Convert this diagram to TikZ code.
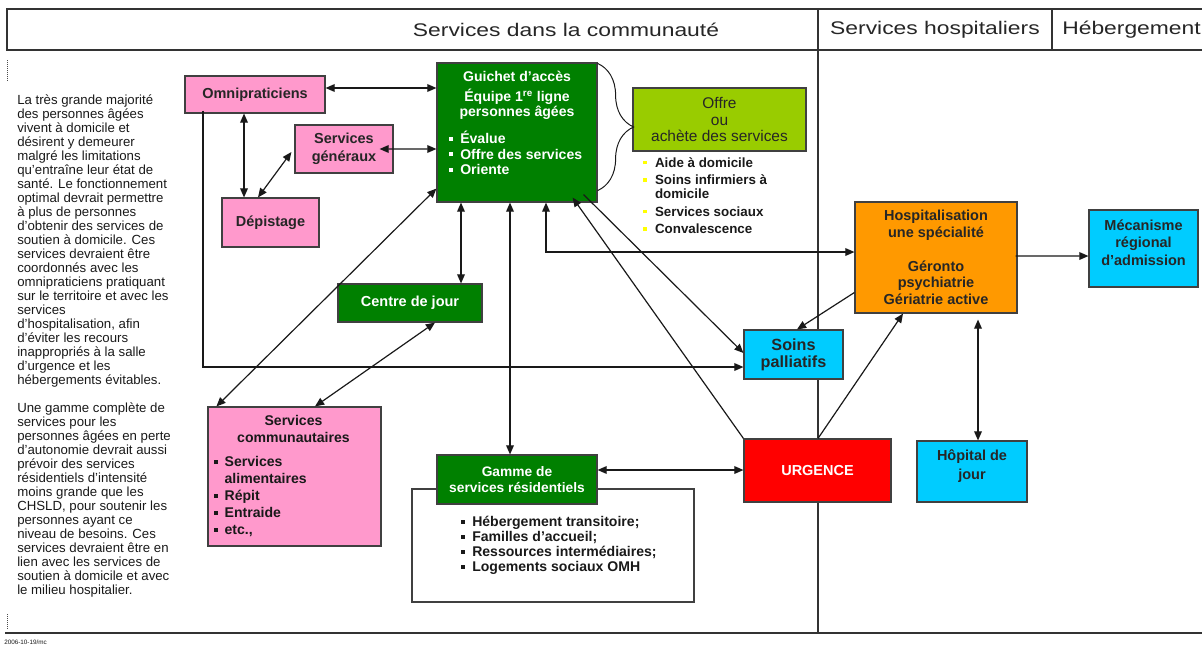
\documentclass[tikz,border=0pt]{standalone}
\usepackage{fontspec}
\setmainfont{Liberation Sans}
\newfontfamily\headfont[FakeStretch=1.25]{Liberation Sans}
\usetikzlibrary{arrows.meta, positioning, calc, decorations.pathreplacing}
\definecolor{boxPink}{HTML}{FF99CC}
\definecolor{boxGreen}{HTML}{008000}
\definecolor{boxLime}{HTML}{99CC00}
\definecolor{boxOrange}{HTML}{FF9900}
\definecolor{boxCyan}{HTML}{00CCFF}
\definecolor{boxRed}{HTML}{FF0000}
\definecolor{bulletYellow}{HTML}{FFFF00}
\newcommand{\fsz}[2]{\fontsize{#1}{#2}\selectfont}
\newcommand{\sqb}{\rule[0.2em]{0.28em}{0.28em}\hspace{0.5em}}
\newcommand{\ysq}{\textcolor{bulletYellow}{\rule[0.2em]{0.28em}{0.28em}}\hspace{0.6em}}

\begin{document}
\begin{tikzpicture}[x=0.025cm, y=-0.025cm, >={Triangle[length=6.5pt,width=5.5pt]},
    box/.style={draw=black!75, line width=0.8pt, inner sep=0pt, align=center, text=black!85, font=\bfseries\fsz{10.3}{12.5}},
    pinkbox/.style={box, fill=boxPink},
    greenbox/.style={box, fill=boxGreen, text=white},
    cyanbox/.style={box, fill=boxCyan},
    orangebox/.style={box, fill=boxOrange},
    link/.style={line width=0.85pt, draw=black!90},
    frame/.style={line width=0.9pt, draw=black!80},
    note/.style={inner sep=0pt, align=left, text=black!90}]

    \useasboundingbox (0,0) rectangle (1202,645);

    % header and columns
    \draw[frame] (1203,9) -- (7,9) -- (7,50) -- (1203,50);
    \draw[frame] (818,9) -- (818,633);
    \draw[frame] (1052,9) -- (1052,50);
    \draw[frame] (5,633) -- (1203,633);
    \draw[densely dotted, line width=0.4pt, black!70] (7,60) -- (7,80) (7,614) -- (7,628);
    \node[text=black!85, font=\headfont\fsz{13}{15}] (hcom) at (566,30) {Services dans la communauté};
    \node[text=black!85, font=\headfont\fsz{13}{15}] (hhosp) at (935,30) {Services hospitaliers};
    \node[text=black!85, font=\headfont\fsz{13}{15}, anchor=west, inner sep=0pt] (hheb) at (1062,30) {Hébergement};

    % left text
    \node[note, anchor=north west, font=\fsz{9.4}{9.96}] (intro) at (17,94) {La très grande majorité\\des personnes âgées\\vivent à domicile et\\désirent y demeurer\\malgré les limitations\\qu’entraîne leur état de\\santé. Le fonctionnement\\optimal devrait permettre\\à plus de personnes\\d’obtenir des services de\\soutien à domicile. Ces\\services devraient être\\coordonnés avec les\\omnipraticiens pratiquant\\sur le territoire et avec les\\services\\d’hospitalisation, afin\\d’éviter les recours\\inappropriés à la salle\\d’urgence et les\\hébergements évitables.\\[9.96pt]Une gamme complète de\\services pour les\\personnes âgées en perte\\d’autonomie devrait aussi\\prévoir des services\\résidentiels d’intensité\\moins grande que les\\CHSLD, pour soutenir les\\personnes ayant ce\\niveau de besoins. Ces\\services devraient être en\\lien avec les services de\\soutien à domicile et avec\\le milieu hospitalier.};
    \node[note, anchor=west, font=\fsz{4.5}{5}] (date) at (4,642) {2006-10-19/mc};

    % community boxes
    \node[pinkbox, minimum width=3.5cm, minimum height=0.925cm] (omni) at (255,94.5) {Omnipraticiens};
    \node[pinkbox, minimum width=2.45cm, minimum height=1.2cm] (sgen) at (344,149) {Services\\généraux};
    \node[pinkbox, minimum width=2.425cm, minimum height=1.225cm] (depist) at (270.5,222.5) {Dépistage};
    \node[greenbox, minimum width=4cm, minimum height=3.475cm] (guichet) at (517,132.5) {};
    \node[note, text=white, align=center, anchor=north, font=\bfseries\fsz{10}{10.7}] (guichetTitle) at ($(guichet.north)+(0,8)$) {Guichet d’accès\\[4pt]Équipe 1\textsuperscript{re} ligne\\personnes âgées};
    \node[note, text=white, anchor=north west, font=\bfseries\fsz{10}{11}] (guichetList) at (449,131) {\sqb Évalue\\\sqb Offre des services\\\sqb Oriente};
    \node[box, fill=boxLime, font=\fsz{11}{12}, minimum width=4.325cm, minimum height=1.575cm] (offre) at (719.5,119.5) {Offre\\ou\\achète des services};
    \draw[link, line width=0.7pt, decorate, decoration={brace, amplitude=0.9cm}] ($(guichet.north east)+(0,1)$) -- ($(guichet.south east)+(0,-12)$);
    \node[note, anchor=north west, font=\bfseries\fsz{9.5}{9.6}] (offreList) at (643,157) {\ysq Aide à domicile\\[3pt]\ysq Soins infirmiers à\\\hphantom{\ysq}domicile\\[3pt]\ysq Services sociaux\\[3pt]\ysq Convalescence};
    \node[greenbox, minimum width=3.6cm, minimum height=0.95cm] (centre) at (410,303) {Centre de jour};
    \node[pinkbox, minimum width=4.325cm, minimum height=3.475cm] (scom) at (294.5,476.5) {};
    \node[note, align=center, anchor=north, font=\bfseries\fsz{10}{12}] (scomTitle) at ($(scom.north)+(-1,9)$) {Services\\communautaires};
    \node[note, anchor=north west, font=\bfseries\fsz{10}{12}] (scomList) at ($(scom.north west)+(6,50)$) {\sqb Services\\\hphantom{\sqb}alimentaires\\\sqb Répit\\\sqb Entraide\\\sqb etc.,};
    \node[draw=black!75, line width=0.8pt, minimum width=7.05cm, minimum height=2.825cm] (resbox) at (553,545.5) {};
    \node[greenbox, minimum width=4cm, minimum height=1.225cm, font=\bfseries\fsz{9.8}{11}] (gamme) at (517,479.5) {Gamme de\\services résidentiels};
    \node[note, anchor=north west, font=\bfseries\fsz{10}{10.7}] (resList) at (461,516) {\sqb Hébergement transitoire;\\\sqb Familles d’accueil;\\\sqb Ressources intermédiaires;\\\sqb Logements sociaux OMH};

    % hospital boxes
    \node[cyanbox, font=\bfseries\fsz{11.5}{12}, minimum width=2.475cm, minimum height=1.225cm] (palli) at (793.5,354.5) {Soins\\palliatifs};
    \node[box, fill=boxRed, text=white, minimum width=3.675cm, minimum height=1.575cm] (urg) at (817.5,470.5) {URGENCE};
    \node[cyanbox, font=\bfseries\fsz{10.3}{13.5}, minimum width=2.75cm, minimum height=1.525cm] (hjour) at (972,471.5) {Hôpital de\\jour\\[-4pt]\mbox{}};
    \node[orangebox, font=\bfseries\fsz{10.3}{12}, minimum width=4.05cm, minimum height=2.775cm] (hosp) at (936,257.5) {Hospitalisation\\une spécialité\\[12pt]Géronto\\psychiatrie\\Gériatrie active};
    \node[cyanbox, font=\bfseries\fsz{10.3}{12.3}, minimum width=2.725cm, minimum height=1.925cm] (meca) at (1143.5,248.5) {Mécanisme\\régional\\d’admission\\[-4pt]\mbox{}};

    % connectors
    \draw[link, <->] ($(omni.east)+(0,-6.5)$) -- ($(guichet.west)+(0,-44.5)$);
    \draw[link, <->] ($(sgen.east)+(-14,0)$) -- ($(guichet.west)+(0,16.5)$);
    \draw[link, <->] ($(omni.south)+(-11,0)$) -- ($(depist.north)+(-26.5,0)$);
    \draw[link, <->] ($(depist.north)+(-12.5,0)$) -- ($(sgen.west)+(-3,3)$);
    \draw[link, ->] ($(omni.south)+(-52,-3)$) |- ($(palli.west)+(0,12.5)$);
    \draw[link, <->] ($(guichet.south west)+(0,-14)$) -- ($(scom.north west)+(9,0)$);
    \draw[link, <->] ($(centre.south)+(25,0)$) -- ($(scom.north)+(20.5,0)$);
    \draw[link, <->] ($(guichet.south)+(-56,0)$) -- ($(centre.north)+(51,0)$);
    \draw[link, <->] ($(guichet.south)+(-7,0)$) -- ($(gamme.north)+(-7,0)$);
    \draw[link, <->] ($(guichet.south)+(29,0)$) |- ($(hosp.west)+(0,-5.5)$);
    \draw[link, ->] ($(guichet.south east)+(-14,-8)$) -- ($(palli.west)+(0,-1.5)$);
    \draw[link, ->] (urg.north west) -- ($(guichet.south east)+(-25,-5)$);
    \draw[link, ->] ($(hosp.west)+(0,35)$) -- ($(palli.north)+(3.5,0)$);
    \draw[link, ->] ($(urg.north)+(0.5,0)$) -- ($(hosp.south)+(-33,0)$);
    \draw[link, <->] ($(hosp.south)+(42,6)$) -- ($(hjour.north)+(6,0)$);
    \draw[link, ->] ($(hosp.east)+(-2,-1.5)$) -- ($(meca.west)+(0,7.5)$);
    \draw[link, <->] ($(gamme.east)+(0,-9.5)$) -- ($(urg.west)+(0,-0.5)$);

\end{tikzpicture}
\end{document}
